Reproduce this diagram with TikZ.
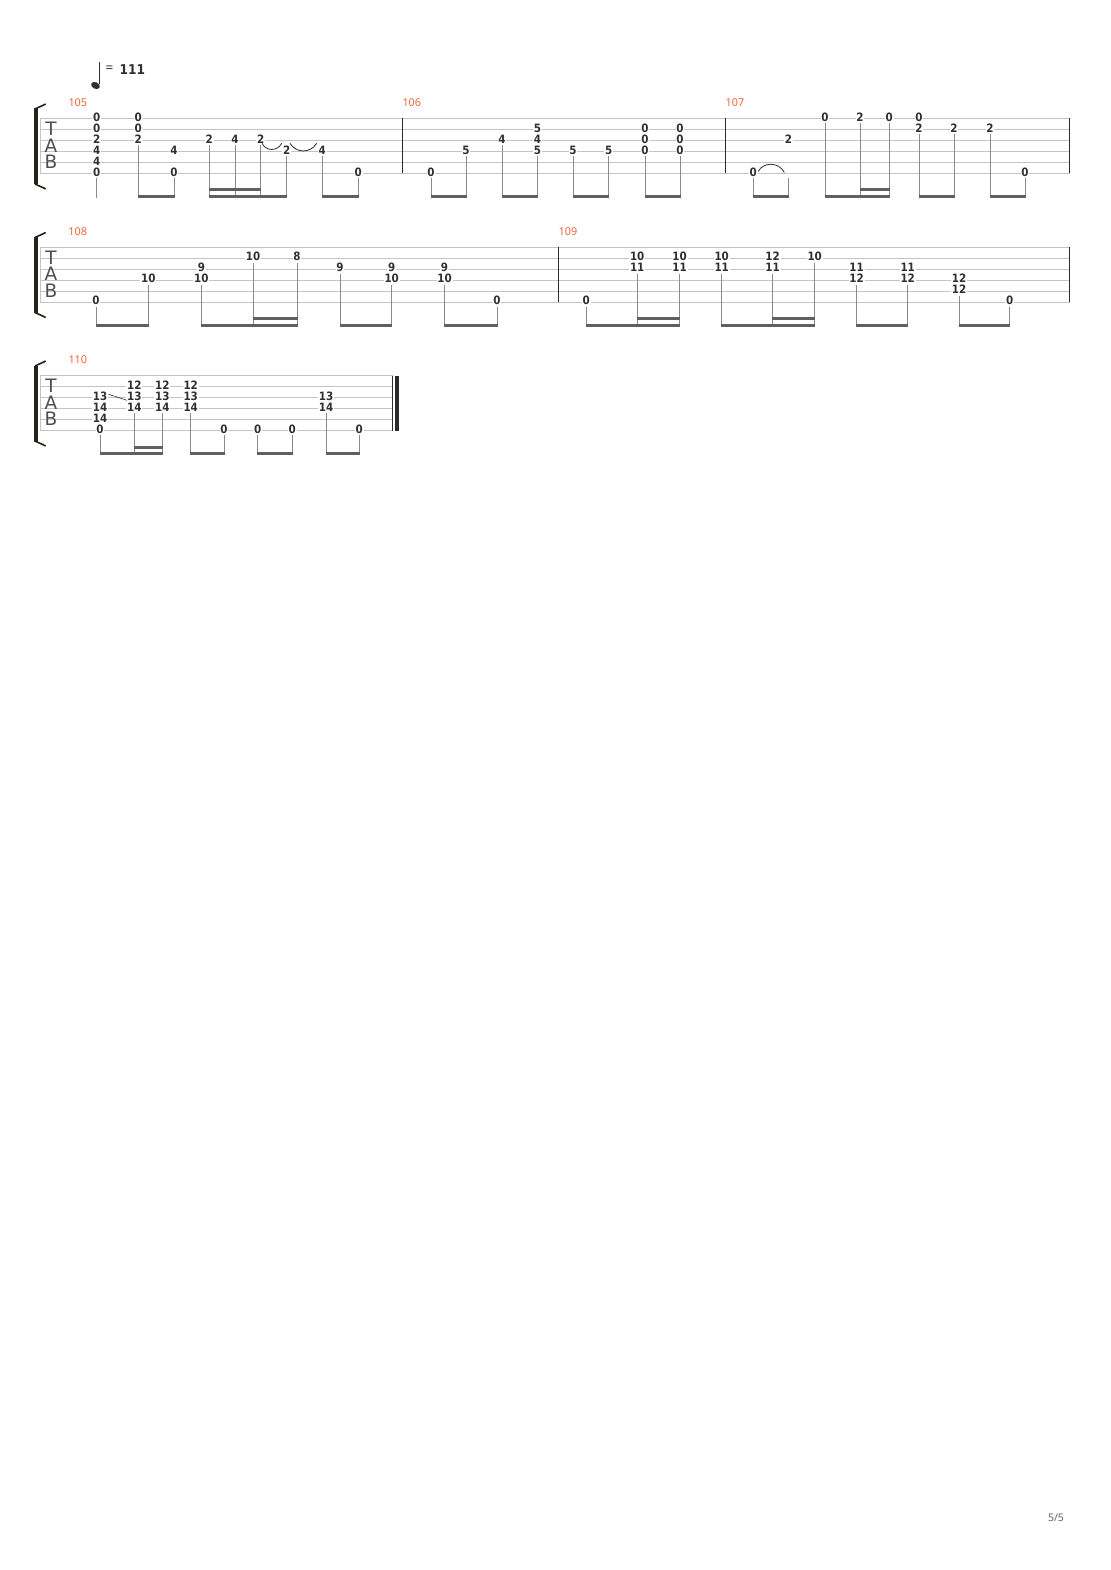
\documentclass[tikz,border=0pt]{standalone}
\usepackage{fontspec}
\setmainfont{Noto Sans}
\newfontfamily\tabletterfont{DejaVu Sans}
\newfontfamily\fretfont{DejaVu Sans Condensed Bold}
\definecolor{stafgray}{HTML}{C4C4C4}
\definecolor{tabdark}{HTML}{303030}
\definecolor{stemgray}{HTML}{8A8A8A}
\definecolor{beamgray}{HTML}{606060}
\definecolor{barcol}{HTML}{2A2A2A}
\definecolor{brackcol}{HTML}{23231A}
\definecolor{measorange}{RGB}{242,101,56}
\newcounter{nc}
\newcommand\SY{118.5}
\newcommand\nt[3]{\stepcounter{nc}\node[fret] (f\arabic{nc}) at (#1,{\SY+11*(#2-1)-1.3}) {#3};}
\newcommand\stm[2]{\draw[stemline] (#1,{\SY+11*(#2-1)+4.5}) -- (#1,{\SY+79.5});}
\newcommand\bm[2]{\fill[beamgray] ({#1-0.5},{\SY+76.5}) rectangle ({#2+0.5},{\SY+79.5});}
\newcommand\bmm[2]{\fill[beamgray] ({#1-0.5},{\SY+70}) rectangle ({#2+0.5},{\SY+73});}
\newcommand\staff[1]{%
  \foreach \k in {0,...,5} \draw[staffline] (40,{\SY+11*\k}) -- (#1,{\SY+11*\k});
  \draw[staffline] (40,\SY) -- (40,{\SY+55});
  \fill[brackcol] (34.3,{\SY-10}) rectangle (38.3,{\SY+66});
  \draw[brackcol,line width=1.6pt] (35,{\SY-9.5}) .. controls (39,{\SY-11.5}) and (42,{\SY-12.5}) .. (45.7,{\SY-14.5});
  \draw[brackcol,line width=1.6pt] (35,{\SY+65.5}) .. controls (39,{\SY+67.5}) and (42,{\SY+68.5}) .. (45.7,{\SY+70.5});
}
\newcommand\barl[1]{\draw[barline] (#1,\SY) -- (#1,{\SY+55});}
\begin{document}
\begin{tikzpicture}[x=1pt,y=-1pt,
  fret/.style={font=\fretfont\fontsize{11.5}{12}\selectfont, text=tabdark, fill=white,
    inner xsep=0.8pt, inner ysep=0.2pt, text height=8.3pt, text depth=0pt},
  staffline/.style={draw=stafgray, line width=0.8pt},
  stemline/.style={draw=stemgray, line width=0.9pt},
  barline/.style={draw=barcol, line width=1pt},
  slur/.style={draw=tabdark, line width=0.8pt},
  measnum/.style={font=\fontsize{10.8}{12}\selectfont, text=measorange, anchor=west, inner sep=0pt},
  tabletter/.style={font=\tabletterfont\fontsize{18.5}{20}\selectfont, text=tabdark!85, inner sep=0pt}]
\useasboundingbox (0,0) rectangle (1110,1570);
\fill[white] (0,0) rectangle (1110,1570);

% tempo
\fill[tabdark,rotate around={-25:(95.5,85.5)}] (95.5,85.5) ellipse (4.6 and 3.3);
\draw[tabdark,line width=1pt] (99.6,84.5) -- (99.6,62.3);
\node[anchor=west,inner sep=0pt,font=\fontsize{13.5}{14}\selectfont,text=tabdark] (teq) at (105.5,69.5) {=};
\node[anchor=west,inner sep=0pt,font=\fretfont\fontsize{13.5}{14}\selectfont,text=tabdark] (tnum) at (119.5,69.5) {111};

% ================= system 1
\renewcommand\SY{118.5}
\staff{1069.7}
\barl{402.3}\barl{725.3}\barl{1069.7}
\node[tabletter] (t1) at (51,{\SY+10.5}) {T};
\node[tabletter] (a1) at (51,{\SY+27}) {A};
\node[tabletter] (b1) at (51,{\SY+43.5}) {B};
\node[measnum] (m105) at (68.3,103) {105};
\node[measnum] (m106) at (402.3,103) {106};
\node[measnum] (m107) at (725.5,103) {107};
% 105
\stm{96.7}{6}
\stm{138.3}{3}\stm{174}{6}\bm{138.3}{174}
\stm{209.3}{3}\stm{235}{3}\stm{260.7}{3}\stm{286.7}{4}\bm{209.3}{286.7}\bmm{209.3}{260.7}
\stm{322.3}{4}\stm{358.3}{6}\bm{322.3}{358.3}
\nt{96.7}{1}{0}\nt{96.7}{2}{0}\nt{96.7}{3}{2}\nt{96.7}{4}{4}\nt{96.7}{5}{4}\nt{96.7}{6}{0}
\nt{138.3}{1}{0}\nt{138.3}{2}{0}\nt{138.3}{3}{2}
\nt{174}{4}{4}\nt{174}{6}{0}
\nt{209.3}{3}{2}\nt{235}{3}{4}\nt{260.7}{3}{2}\nt{286.7}{4}{2}
\nt{322.3}{4}{4}\nt{358.3}{6}{0}
\draw[slur] (262,143.3) .. controls (266,151.5) and (277.5,151.5) .. (281.7,143.3);
\draw[slur] (290,143.3) .. controls (296,153.5) and (310.5,153.5) .. (316.7,143.3);
% 106
\stm{431}{6}\stm{466}{4}\bm{431}{466}
\stm{502}{3}\stm{537.5}{4}\bm{502}{537.5}
\stm{573}{4}\stm{608.7}{4}\bm{573}{608.7}
\stm{645}{4}\stm{680}{4}\bm{645}{680}
\nt{431}{6}{0}\nt{466}{4}{5}
\nt{502}{3}{4}\nt{537.5}{2}{5}\nt{537.5}{3}{4}\nt{537.5}{4}{5}
\nt{573}{4}{5}\nt{608.7}{4}{5}
\nt{645}{2}{0}\nt{645}{3}{0}\nt{645}{4}{0}
\nt{680}{2}{0}\nt{680}{3}{0}\nt{680}{4}{0}
% 107
\stm{753.3}{6}\stm{788.5}{6}\bm{753.3}{788.5}
\stm{825}{1}\stm{860}{1}\stm{889.3}{1}\bm{825}{889.3}\bmm{860}{889.3}
\stm{919}{2}\stm{954}{2}\bm{919}{954}
\stm{990}{2}\stm{1025}{6}\bm{990}{1025}
\nt{753.3}{6}{0}\nt{788.5}{3}{2}
\nt{825}{1}{0}\nt{860}{1}{2}\nt{889.3}{1}{0}
\nt{919}{1}{0}\nt{919}{2}{2}\nt{954}{2}{2}
\nt{990}{2}{2}\nt{1025}{6}{0}
\draw[slur] (758.3,171.3) .. controls (763,162) and (779,161.5) .. (784.3,172.5);

% ================= system 2
\renewcommand\SY{247}
\staff{1069.7}
\barl{558.3}\barl{1069.7}
\node[tabletter] (t2) at (51,{\SY+10.5}) {T};
\node[tabletter] (a2) at (51,{\SY+27}) {A};
\node[tabletter] (b2) at (51,{\SY+43.5}) {B};
\node[measnum] (m108) at (68.2,231.5) {108};
\node[measnum] (m109) at (558.5,231.5) {109};
% 108
\stm{96}{6}\stm{148.3}{4}\bm{96}{148.3}
\stm{201.4}{4}\stm{253}{2}\stm{297}{2}\bm{201.4}{297}\bmm{253}{297}
\stm{340}{3}\stm{391.7}{4}\bm{340}{391.7}
\stm{444.5}{4}\stm{497}{6}\bm{444.5}{497}
\nt{96}{6}{0}\nt{148.3}{4}{10}
\nt{201.4}{3}{9}\nt{201.4}{4}{10}\nt{253}{2}{10}\nt{297}{2}{8}
\nt{340}{3}{9}\nt{391.7}{3}{9}\nt{391.7}{4}{10}
\nt{444.5}{3}{9}\nt{444.5}{4}{10}\nt{497}{6}{0}
% 109
\stm{586.2}{6}\stm{637.2}{3}\stm{679.5}{3}\bm{586.2}{679.5}\bmm{637.2}{679.5}
\stm{721.7}{3}\stm{772.5}{3}\stm{814.7}{2}\bm{721.7}{814.7}\bmm{772.5}{814.7}
\stm{856.6}{4}\stm{907.7}{4}\bm{856.6}{907.7}
\stm{959}{5}\stm{1009.8}{6}\bm{959}{1009.8}
\nt{586.2}{6}{0}
\nt{637.2}{2}{10}\nt{637.2}{3}{11}
\nt{679.5}{2}{10}\nt{679.5}{3}{11}
\nt{721.7}{2}{10}\nt{721.7}{3}{11}
\nt{772.5}{2}{12}\nt{772.5}{3}{11}
\nt{814.7}{2}{10}
\nt{856.6}{3}{11}\nt{856.6}{4}{12}
\nt{907.7}{3}{11}\nt{907.7}{4}{12}
\nt{959}{4}{12}\nt{959}{5}{12}
\nt{1009.8}{6}{0}

% ================= system 3
\renewcommand\SY{375.5}
\staff{392.7}
\barl{392.7}
\fill[barcol] (394.6,\SY) rectangle (399,{\SY+55});
\node[tabletter] (t3) at (51,{\SY+10.5}) {T};
\node[tabletter] (a3) at (51,{\SY+27}) {A};
\node[tabletter] (b3) at (51,{\SY+43.5}) {B};
\node[measnum] (m110) at (68.3,359.5) {110};
% 110
\stm{100}{6}\stm{134.3}{4}\stm{162.3}{4}\bm{100}{162.3}\bmm{134.3}{162.3}
\stm{190.7}{4}\stm{224}{6}\bm{190.7}{224}
\stm{257.7}{6}\stm{292.3}{6}\bm{257.7}{292.3}
\stm{326}{4}\stm{359.3}{6}\bm{326}{359.3}
\nt{100}{3}{13}\nt{100}{4}{14}\nt{100}{5}{14}\nt{100}{6}{0}
\nt{134.3}{2}{12}\nt{134.3}{3}{13}\nt{134.3}{4}{14}
\nt{162.3}{2}{12}\nt{162.3}{3}{13}\nt{162.3}{4}{14}
\nt{190.7}{2}{12}\nt{190.7}{3}{13}\nt{190.7}{4}{14}
\nt{224}{6}{0}\nt{257.7}{6}{0}\nt{292.3}{6}{0}
\nt{326}{3}{13}\nt{326}{4}{14}\nt{359.3}{6}{0}
\draw[slur,line width=0.6pt] (108.5,394.3) -- (127,400.3);

% page number
\node[inner sep=0pt,font=\fontsize{10.5}{12}\selectfont,text=black!60] (pg) at (1056,1518) {5/5};
\end{tikzpicture}
\end{document}
